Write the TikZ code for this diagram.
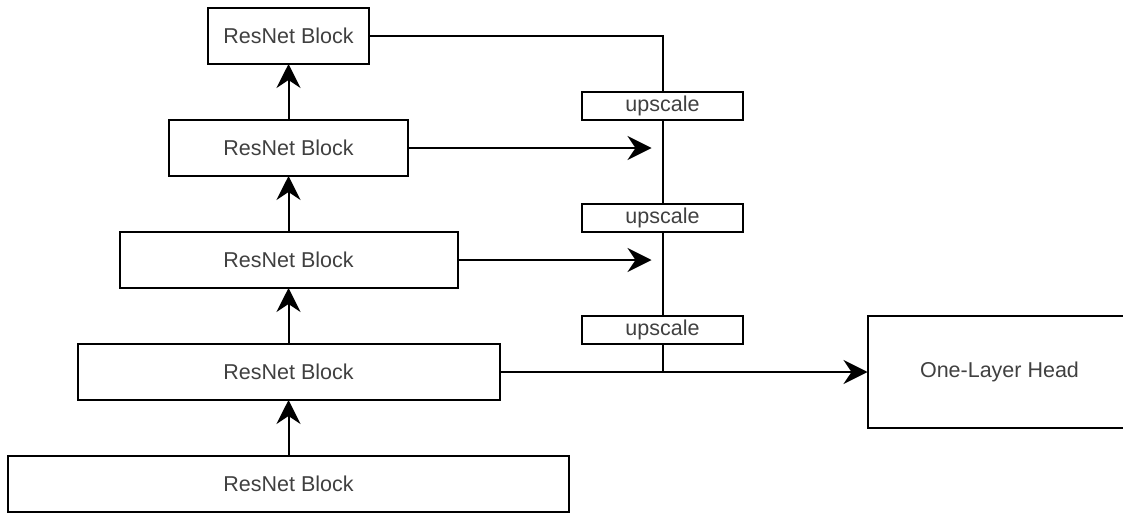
\documentclass[tikz,border=0pt]{standalone}
\usepackage{fontspec}
\setmainfont{Liberation Sans}
\usetikzlibrary{arrows.meta, positioning}

\begin{document}
\begin{tikzpicture}[
    x=0.5pt, y=-0.5pt,
    block/.style={draw, line width=1pt, minimum height=28pt, outer sep=0pt,
                  text centered, text=black!75, inner sep=0pt,
                  font=\fontsize{10.75}{13}\selectfont, minimum width=#1},
    upbox/.style={block=80.5pt, minimum height=14pt},
    >={Stealth[length=12pt, width=12pt, inset=4pt]},
    every path/.style={line width=1pt}
  ]
  \useasboundingbox (0,0) rectangle (1123,514);

  % Backbone
  \node[block=280.5pt] (b5) at (288.5,484) {ResNet Block};
  \node[block=211pt, above=28pt of b5] (b4) {ResNet Block};
  \node[block=169pt, above=28pt of b4] (b3) {ResNet Block};
  \node[block=119.5pt, above=28pt of b3] (b2) {ResNet Block};
  \node[block=80.5pt, above=28pt of b2] (b1) {ResNet Block};

  % Upscaling path
  \node[upbox] (up3) at (662.5,330) {upscale};
  \node[upbox, above=42pt of up3] (up2) {upscale};
  \node[upbox, above=42pt of up2] (up1) {upscale};

  % Head (runs off the right edge)
  \node[block=132pt, minimum height=56pt, right=184pt of b4] (head)
    {One-Layer Head};

  % Merge points
  \coordinate[xshift=-5.5pt] (m2) at (up1.south |- b2.east);
  \coordinate[xshift=-5.5pt] (m3) at (up2.south |- b3.east);

  % Arrows
  \draw[->] (b5) -- (b4);
  \draw[->] (b4) -- (b3);
  \draw[->] (b3) -- (b2);
  \draw[->] (b2) -- (b1);
  \draw (b1) -| (up1);
  \draw (up1) -- (up2);
  \draw (up2) -- (up3);
  \draw (up3) -- (up3 |- b4.east);
  \draw[->] (b2) -- (m2);
  \draw[->] (b3) -- (m3);
  \draw[->] (b4) -- (head);

\end{tikzpicture}
\end{document}
